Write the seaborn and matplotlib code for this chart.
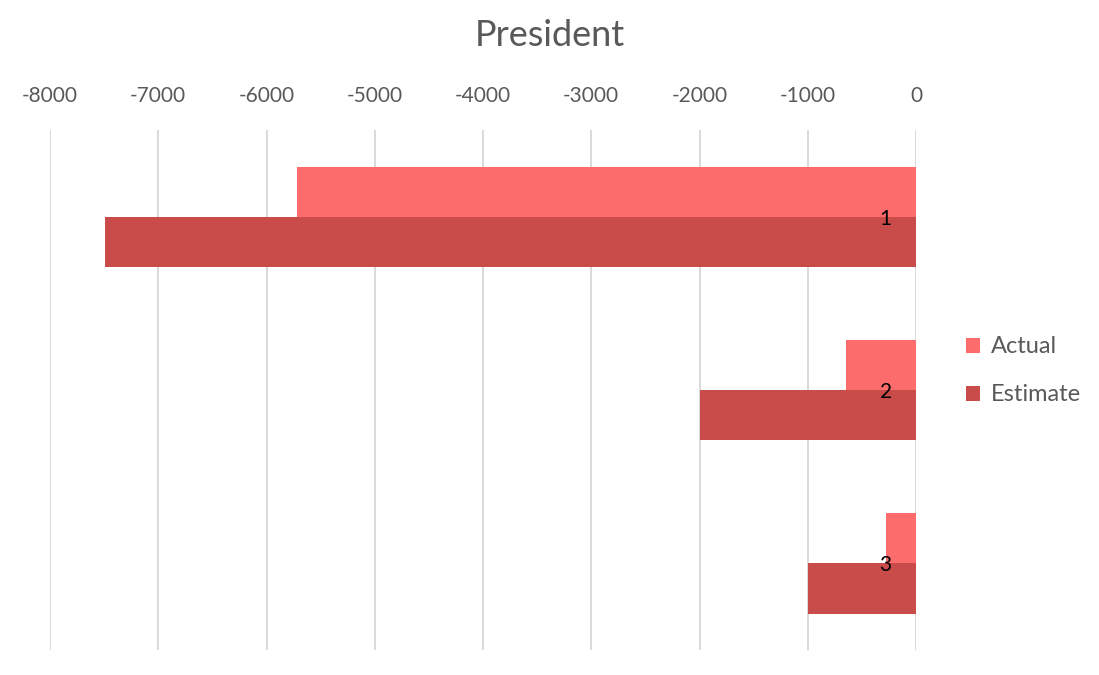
import pandas as pd
import matplotlib.pyplot as plt
import seaborn as sns

# Data
categories = ["1", "2", "3"]
actual = [-5720, -650, -280]
estimate = [-7490, -2000, -1000]
series_names = ["Actual", "Estimate"]
colors = ["#FC6C6C", "#C94B4A"]

df = pd.DataFrame({
    "category": categories * 2,
    "value": actual + estimate,
    "series": [series_names[0]] * 3 + [series_names[1]] * 3,
})

sns.set_style("white")
plt.rcParams["font.family"] = ["Lato", "DejaVu Sans"]
plt.rcParams["axes.unicode_minus"] = False

fig = plt.figure(figsize=(10.99, 6.75), dpi=100)
ax = fig.add_axes([0.0455, 0.037, 0.788, 0.77])

sns.barplot(data=df, x="value", y="category", hue="series", orient="h",
            palette=colors, width=0.58, saturation=1, linewidth=0,
            ax=ax, legend=True)

ax.set_xlim(-8000, 0)
ax.set_ylim(2.5, -0.5)
ax.set_xticks(range(-8000, 1, 1000))
ax.grid(axis="x", color="#D9D9D9", linewidth=1.4)
ax.set_axisbelow(True)
ax.yaxis.set_zorder(5)
for s in ax.spines.values():
    s.set_visible(False)

ax.set_xlabel("")
ax.set_ylabel("")
ax.tick_params(axis="x", bottom=False, labelbottom=False, top=False, labeltop=True,
               labelsize=15, labelcolor="#595959", pad=14)
ax.tick_params(axis="y", left=False, labelleft=False, right=False, labelright=True,
               labelsize=15, labelcolor="black", pad=-21)
for lbl in ax.get_yticklabels():
    lbl.set_horizontalalignment("right")
    lbl.set_verticalalignment("center_baseline")

fig.text(0.5, 0.947, "President", fontsize=26, color="#595959",
         ha="center", va="center")

leg = ax.legend(loc="center left", bbox_to_anchor=(1.033, 0.537), frameon=False,
                fontsize=17, handlelength=0.6, handleheight=0.6, handletextpad=0.45,
                labelspacing=1.15)
for t in leg.get_texts():
    t.set_color("#595959")

fig.savefig("out.png", dpi=100)
